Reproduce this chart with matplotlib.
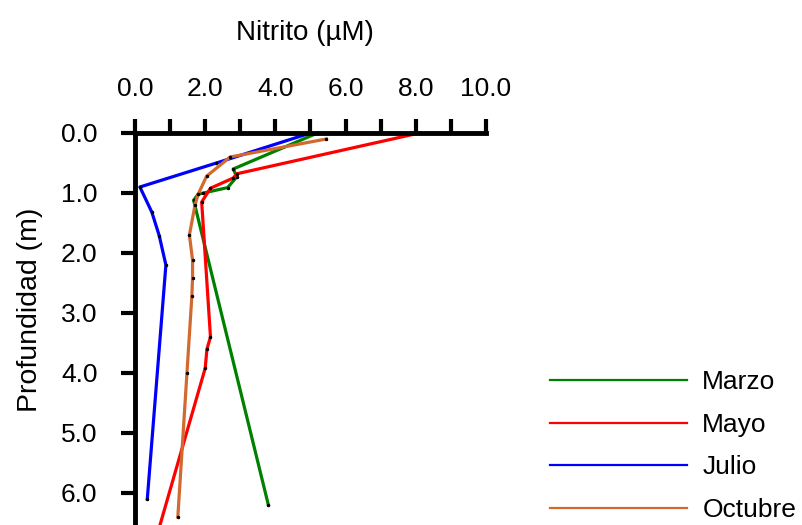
import matplotlib.pyplot as plt

plt.rcParams['font.family'] = ['Liberation Sans', 'DejaVu Sans']

# depth (m) and nitrite (uM) per sampling month
marzo_depth = [0.0, 0.6, 0.73, 0.91, 1.0, 1.02, 1.12, 6.2]
marzo_no2 = [5.2, 2.8, 2.9, 2.64, 1.95, 1.8, 1.67, 3.8]

mayo_depth = [0.0, 0.68, 0.75, 0.92, 1.15, 3.4, 3.6, 3.92, 6.7]
mayo_no2 = [8.1, 2.9, 2.8, 2.15, 1.9, 2.15, 2.05, 2.0, 0.63]

julio_depth = [0.0, 0.5, 0.9, 1.32, 1.71, 2.2, 6.1]
julio_no2 = [5.0, 2.32, 0.14, 0.48, 0.69, 0.88, 0.35]

octubre_depth = [0.1, 0.4, 0.72, 1.02, 1.2, 1.7, 2.12, 2.41, 2.72, 4.0, 6.4]
octubre_no2 = [5.45, 2.71, 2.04, 1.8, 1.71, 1.55, 1.64, 1.64, 1.62, 1.48, 1.22]

series = [
    ("Marzo", marzo_no2, marzo_depth, "#008000"),
    ("Mayo", mayo_no2, mayo_depth, "#ff0000"),
    ("Julio", julio_no2, julio_depth, "#0000ff"),
    ("Octubre", octubre_no2, octubre_depth, "#d2692e"),
]

xticks_major = [0, 2, 4, 6, 8, 10]
xticks_minor = [1, 3, 5, 7, 9]
yticks = [0, 1, 2, 3, 4, 5, 6]

fig = plt.figure(figsize=(8.03, 5.25), dpi=100)
ax = fig.add_axes([135 / 803, 1 - 553 / 525, 351 / 803, 420 / 525])

for name, x, y, c in series:
    ax.plot(x, y, color=c, lw=2.3, marker='.', ms=3, mfc='black', mec='black',
            label=name, clip_on=False)

ax.set_xlim(0, 10)
ax.set_ylim(7, 0)

ax.xaxis.tick_top()
ax.xaxis.set_label_position('top')
ax.set_xticks(xticks_major)
ax.set_xticks(xticks_minor, minor=True)
ax.set_xticklabels([f"{v:.1f}" for v in xticks_major])
ax.set_yticks(yticks)
ax.set_yticklabels([f"{v:.1f}" for v in yticks])

ax.tick_params(axis='x', which='both', direction='out', length=10, width=3,
               labelsize=19, pad=13)
ax.tick_params(axis='y', direction='out', length=10, width=3, labelsize=19, pad=17)

for side in ['right', 'bottom']:
    ax.spines[side].set_visible(False)
for side in ['top', 'left']:
    ax.spines[side].set_linewidth(3.5)

ax.set_xlabel("Nitrito (µM)", fontsize=20, labelpad=27)
ax.xaxis.label.set_x(0.484)
ax.set_ylabel("Profundidad (m)", fontsize=20.5, va='center')
ax.yaxis.set_label_coords(-0.30, 0.579)

leg = ax.legend(loc='upper left', bbox_to_anchor=(550 / 803, 1 - 370 / 525),
                bbox_transform=fig.transFigure, frameon=False, fontsize=19,
                handlelength=5.2, handletextpad=0.57, labelspacing=0.71,
                borderpad=0, borderaxespad=0)
for line in leg.get_lines():
    line.set_linewidth(1.6)
    line.set_marker('')

fig.savefig("out.png", dpi=100)
